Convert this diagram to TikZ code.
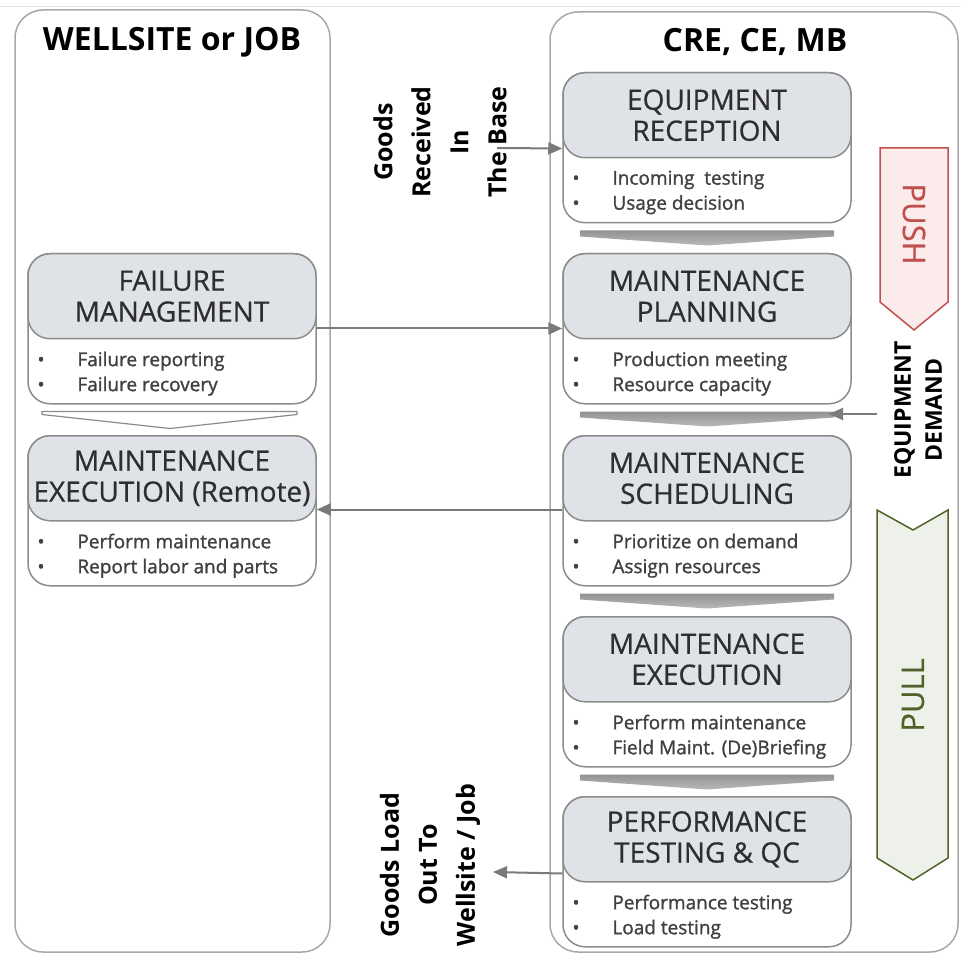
\documentclass[tikz,border=0pt]{standalone}
\usepackage{fontspec}
\setmainfont{Open Sans}
\newfontfamily\boxfont{Open Sans}[RawFeature={embolden=0.6}]
\newfontfamily\listfont{Open Sans}[RawFeature={embolden=1.2}]
\usepackage{tikz}
\usetikzlibrary{arrows.meta}
\usetikzlibrary{calc}
\usepackage{xcolor}

\definecolor{boxline}{HTML}{8C8C8C}
\definecolor{headfill}{HTML}{DFE2E6}
\definecolor{panelline}{HTML}{A8A8A8}
\definecolor{flowgray}{HTML}{7A7A7A}
\definecolor{pushred}{HTML}{C0504D}
\definecolor{pushfill}{HTML}{FBEBEB}
\definecolor{pullgreen}{HTML}{4F6228}
\definecolor{pullfill}{HTML}{EEF1EA}
\definecolor{textgray}{HTML}{2E2E2E}
\definecolor{listgray}{HTML}{404040}

\newcommand{\bulletmark}{\makebox[40pt][l]{\textbullet}}

\tikzset{
  panel/.style={draw=panelline, line width=1.5pt, rounded corners=28pt},
  coltitle/.style={font=\bfseries\fontsize{32}{36}\selectfont},
  procbox/.style={draw=boxline, fill=white, line width=1.5pt, rounded corners=22pt,
    minimum width=288pt, minimum height=150pt, inner sep=0pt},
  prochead/.style={draw=boxline, fill=headfill, line width=1.5pt, rounded corners=22pt,
    minimum width=288pt, minimum height=85pt, inner sep=0pt, align=center,
    text=textgray, font=\boxfont\fontsize{28}{31}\selectfont},
  bullets/.style={anchor=north west, align=left, inner sep=0pt, text=listgray,
    font=\listfont\fontsize{19}{25}\selectfont},
  chev/.style={top color=gray!85, bottom color=gray!55, draw=none},
  chevopen/.style={draw=boxline, fill=white, line width=1.2pt},
  flow/.style={draw=flowgray, line width=2pt, -{Triangle[length=14pt,width=12pt]}},
  sidelabel/.style={align=center, rotate=90, font=\bfseries\fontsize{25}{38}\selectfont},
}

\begin{document}
\begin{tikzpicture}[x=1pt,y=-1pt]
  \useasboundingbox (0,0) rectangle (961,957);
  \draw[gray!20, line width=1pt] (0,7) -- (961,7);

  % the two sites
  \draw[panel] (15,10) rectangle (330,952);
  \draw[panel] (550,12) rectangle (958,952);
  \node[coltitle] (wellt) at (172,42) {WELLSITE or JOB};
  \node[coltitle] (baset) at (755,42) {CRE, CE, MB};

  % base workflow
  \node[procbox, anchor=north] (recv) at (707,72) {};
  \node[prochead, anchor=north] (recvh) at (recv.north) {EQUIPMENT\\RECEPTION};
  \node[bullets] (recvb) at ($(recvh.south west)+(10,12)$) {\bulletmark Incoming\ \ testing\\\bulletmark Usage decision};

  \node[procbox, anchor=north] (plan) at (707,253) {};
  \node[prochead, anchor=north] (planh) at (plan.north) {MAINTENANCE\\PLANNING};
  \node[bullets] (planb) at ($(planh.south west)+(10,12)$) {\bulletmark Production meeting\\\bulletmark Resource capacity};

  \node[procbox, anchor=north] (sched) at (707,435) {};
  \node[prochead, anchor=north] (schedh) at (sched.north) {MAINTENANCE\\SCHEDULING};
  \node[bullets] (schedb) at ($(schedh.south west)+(10,12)$) {\bulletmark Prioritize on demand\\\bulletmark Assign resources};

  \node[procbox, anchor=north] (exec) at (707,616) {};
  \node[prochead, anchor=north] (exech) at (exec.north) {MAINTENANCE\\EXECUTION};
  \node[bullets] (execb) at ($(exech.south west)+(10,12)$) {\bulletmark Perform maintenance\\\bulletmark Field Maint. (De)Briefing};

  \node[procbox, anchor=north] (test) at (707,796) {};
  \node[prochead, anchor=north] (testh) at (test.north) {PERFORMANCE\\TESTING \& QC};
  \node[bullets] (testb) at ($(testh.south west)+(10,12)$) {\bulletmark Performance testing\\\bulletmark Load testing};

  \path[chev] ($(recv.south)+(-127,7)$) -- ++(254,0) -- ++(0,6) -- ($(recv.south)+(0,22)$) -- ($(recv.south)+(-127,13)$) -- cycle;
  \path[chev] ($(plan.south)+(-127,7)$) -- ++(254,0) -- ++(0,6) -- ($(plan.south)+(0,22)$) -- ($(plan.south)+(-127,13)$) -- cycle;
  \path[chev] ($(sched.south)+(-127,7)$) -- ++(254,0) -- ++(0,6) -- ($(sched.south)+(0,22)$) -- ($(sched.south)+(-127,13)$) -- cycle;
  \path[chev] ($(exec.south)+(-127,7)$) -- ++(254,0) -- ++(0,6) -- ($(exec.south)+(0,22)$) -- ($(exec.south)+(-127,13)$) -- cycle;

  % wellsite workflow
  \node[procbox, anchor=north] (fail) at (172,253) {};
  \node[prochead, anchor=north] (failh) at (fail.north) {FAILURE\\MANAGEMENT};
  \node[bullets] (failb) at ($(failh.south west)+(10,12)$) {\bulletmark Failure reporting\\\bulletmark Failure recovery};

  \node[procbox, anchor=north] (remote) at (172,435) {};
  \node[prochead, anchor=north] (remoteh) at (remote.north) {MAINTENANCE\\EXECUTION (Remote)};
  \node[bullets] (remoteb) at ($(remoteh.south west)+(10,12)$) {\bulletmark Perform maintenance\\\bulletmark Report labor and parts};

  \draw[chevopen] ($(fail.south)+(-130,7)$) -- ++(255,0) -- ++(0,3) -- ($(fail.south)+(-2,24)$) -- ($(fail.south)+(-130,10)$) -- cycle;

  % push / pull
  \draw[pushred, fill=pushfill, line width=1.5pt] (880,148) -- (948,148) -- (948,302) -- (914,330) -- (880,302) -- cycle;
  \node[text=pushred, rotate=-90, font=\boxfont\fontsize{31}{34}\selectfont] (push) at (914,224) {PUSH};
  \draw[pullgreen, fill=pullfill, line width=1.5pt] (877,510) -- (913,530) -- (948,510) -- (948,858) -- (913,880) -- (877,858) -- cycle;
  \node[text=pullgreen, rotate=90, font=\boxfont\fontsize{31}{34}\selectfont] (pull) at (913,695) {PULL};

  \node[sidelabel, font=\bfseries\fontsize{23}{31}\selectfont] (demand) at (918,410) {EQUIPMENT\\DEMAND};
  \node[sidelabel] (goodsin) at (440,142) {Goods\\Received\\In\\The Base};
  \node[sidelabel] (goodsout) at (430,865) {Goods Load\\Out To\\Wellsite / Job};

  \coordinate (gin) at (497,148);
  \coordinate (gout) at (493,872);
  \coordinate (demin) at (877,414);
  \coordinate (demout) at (829,414);

  % flows
  \draw[flow] (gin) -- ($(recvh.south west)+(0,-10)$);
  \draw[flow] ($(failh.south east)+(0,-11)$) -- ($(planh.south west)+(0,-11)$);
  \draw[flow] ($(schedh.south west)+(0,-12)$) -- ($(remoteh.south east)+(0,-12)$);
  \draw[flow] (demin) -- (demout);
  \draw[flow] ($(testh.south west)+(0,-9)$) -- (gout);
\end{tikzpicture}
\end{document}
